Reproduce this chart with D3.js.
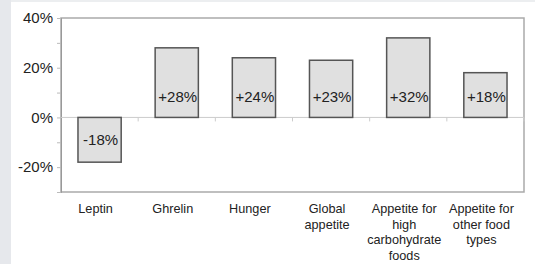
<!DOCTYPE html>
<html>
<head>
<meta charset="utf-8">
<script src="https://cdn.jsdelivr.net/npm/d3@7"></script>
<style>
  body { margin: 0; background: #fff; }
  svg { display: block; font-family: Arial, "Liberation Sans", sans-serif; }
</style>
</head>
<body>
<svg width="535" height="264"></svg>
<script>
const categories = [
  ["Leptin"],
  ["Ghrelin"],
  ["Hunger"],
  ["Global", "appetite"],
  ["Appetite for", "high", "carbohydrate", "foods"],
  ["Appetite for", "other food", "types"]
];
const values = [-18, 28, 24, 23, 32, 18];
const labels = ["-18%", "+28%", "+24%", "+23%", "+32%", "+18%"];
const yTicks = [-30, -20, -10, 0, 10, 20, 30, 40];
const yLabels = [-20, 0, 20, 40];

const svg = d3.select("svg");
const plotL = 61, plotR = 524, plotT = 18, plotB = 192;

// page backdrop strips
svg.append("rect").attr("x", 0).attr("y", 0).attr("width", 535).attr("height", 264).attr("fill", "#fff");
svg.append("rect").attr("x", 0).attr("y", 0).attr("width", 11).attr("height", 264).attr("fill", "#e6e8ec");
svg.append("rect").attr("x", 11).attr("y", 0).attr("width", 524).attr("height", 2).attr("fill", "#eceef0");

const x = d3.scaleBand()
  .domain(d3.range(values.length))
  .range([plotL, plotR])
  .paddingInner(0.44)
  .paddingOuter(0.22);

const band = (plotR - plotL) / values.length;

const y = d3.scaleLinear()
  .domain([-30, 40])
  .range([plotB, plotT]);

// plot frame
svg.append("rect")
  .attr("x", plotL).attr("y", plotT)
  .attr("width", plotR - plotL).attr("height", plotB - plotT)
  .attr("fill", "none")
  .attr("stroke", "#aaa")
  .attr("stroke-width", 1.5);

// y axis
const yAxis = d3.axisLeft(y)
  .tickValues(yTicks)
  .tickSize(4)
  .tickFormat(d => yLabels.includes(d) ? d + "%" : "");

const gy = svg.append("g")
  .attr("transform", `translate(${plotL},0)`)
  .call(yAxis);
gy.select(".domain").attr("stroke", "#999");
gy.selectAll(".tick line").attr("stroke", "#bbb");
gy.selectAll(".tick text")
  .attr("font-size", 15)
  .attr("fill", "#222")
  .attr("x", -8)
  .attr("font-family", "Arial, 'Liberation Sans', sans-serif");

// zero line with category ticks
svg.append("line")
  .attr("x1", plotL).attr("x2", plotR)
  .attr("y1", y(0)).attr("y2", y(0))
  .attr("stroke", "#ccc");
svg.selectAll("line.cat")
  .data(d3.range(1, values.length + 1))
  .enter().append("line")
  .attr("x1", i => plotL + i * band).attr("x2", i => plotL + i * band)
  .attr("y1", y(0)).attr("y2", y(0) + 4)
  .attr("stroke", "#ccc");

// bars
svg.selectAll("rect.bar")
  .data(values)
  .enter().append("rect")
  .attr("class", "bar")
  .attr("x", (d, i) => x(i))
  .attr("y", d => y(Math.max(0, d)))
  .attr("width", x.bandwidth())
  .attr("height", d => Math.abs(y(d) - y(0)))
  .attr("fill", "#e0e0e0")
  .attr("stroke", "#555")
  .attr("stroke-width", 1.5);

// value labels
svg.selectAll("text.val")
  .data(values)
  .enter().append("text")
  .attr("class", "val")
  .attr("x", (d, i) => x(i) + x.bandwidth() / 2 + 1)
  .attr("y", d => d > 0 ? y(8.2) : y(d / 2))
  .attr("dy", "0.36em")
  .attr("text-anchor", "middle")
  .attr("font-size", 15)
  .attr("fill", "#222")
  .text((d, i) => labels[i]);

// category labels
const cat = svg.selectAll("text.cat")
  .data(categories)
  .enter().append("text")
  .attr("class", "cat")
  .attr("text-anchor", "middle")
  .attr("font-size", 12.7)
  .attr("fill", "#222")
  .attr("x", (d, i) => x(i) + x.bandwidth() / 2 - 4)
  .attr("y", 213);
cat.selectAll("tspan")
  .data(d => d)
  .enter().append("tspan")
  .attr("x", function() { return d3.select(this.parentNode).attr("x"); })
  .attr("dy", (d, i) => i === 0 ? 0 : 15.5)
  .text(d => d);
</script>
</body>
</html>
